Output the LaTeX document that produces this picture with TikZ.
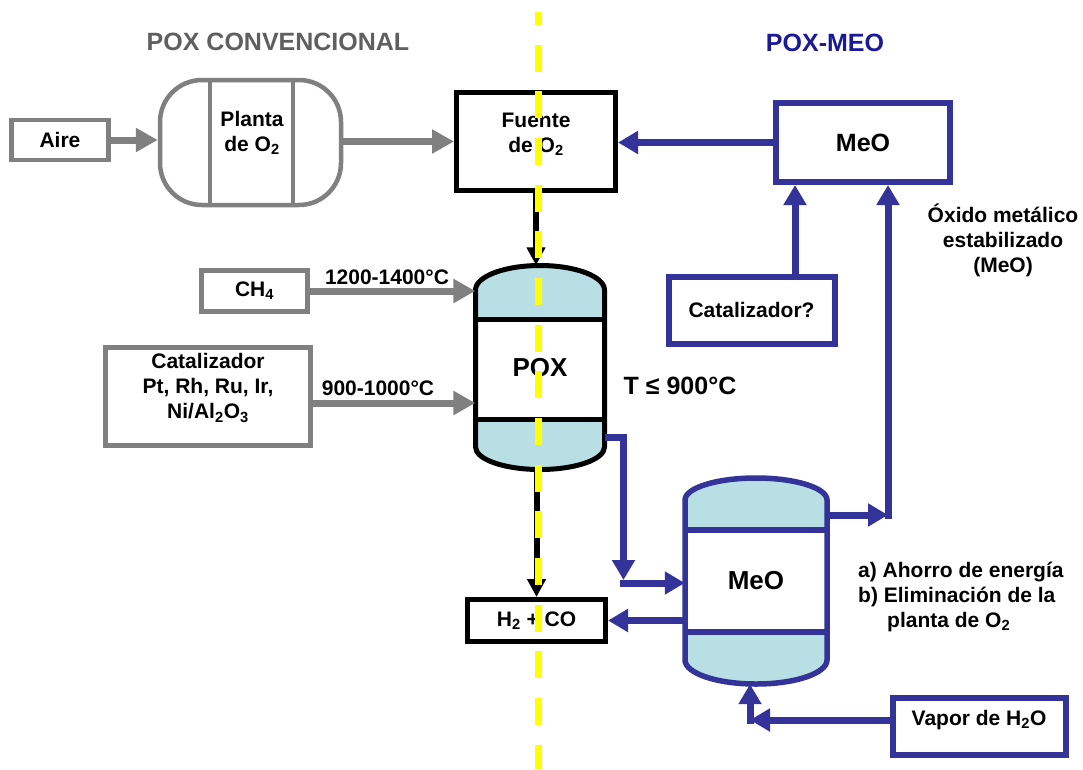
\documentclass[tikz,border=0pt]{standalone}
\usepackage{fontspec}
\setmainfont{Liberation Sans}
\usepackage{xcolor}
\definecolor{cGray}{HTML}{808080}
\definecolor{cGrayText}{HTML}{5F5F5F}
\definecolor{cBlue}{HTML}{333399}
\definecolor{cNavy}{HTML}{1A1A99}
\definecolor{cFill}{HTML}{B8DFE3}
\definecolor{cDivide}{HTML}{FFFF00}
\usepackage{tikz}
\usetikzlibrary{positioning,arrows.meta,calc}
\tikzset{
  txt/.style={font=\fontsize{21pt}{25pt}\selectfont\bfseries,align=center,inner sep=0pt},
  txt-big/.style={font=\fontsize{26pt}{30pt}\selectfont\bfseries,align=center,inner sep=0pt},
  head-title/.style={font=\fontsize{25pt}{30pt}\selectfont\bfseries,inner sep=0pt},
  box-gray/.style={txt,draw=cGray,line width=4.5pt,fill=white},
  box-black/.style={txt,draw=black,line width=5pt,fill=white},
  box-blue/.style={txt,draw=cBlue,line width=6pt,fill=white},
  vessel-black/.style={draw=black,line width=5pt},
  vessel-blue/.style={draw=cBlue,line width=5.5pt},
  arrow-gray/.style={-{Triangle[length=22pt,width=23pt]},line width=7pt,draw=cGray},
  arrow-blue/.style={-{Triangle[length=20pt,width=22pt]},line width=7pt,draw=cBlue},
  arrow-black/.style={-{Triangle[length=18pt,width=18pt]},line width=6pt,draw=black},
  divide-line/.style={draw=cDivide,line width=7pt,dash pattern=on 27pt off 19.67pt,dash phase=14pt},
}

\begin{document}
\begin{tikzpicture}[x=1pt,y=-1pt]
  \useasboundingbox (0,0) rectangle (1083,769);

  \node[head-title,text=cGrayText] (t-conv) at (278,42) {POX CONVENCIONAL};
  \node[head-title,text=cNavy]     (t-meo)  at (825,43) {POX-MEO};

  % reactor POX
  \fill[cFill] (475.5,319) -- (475.5,290)
    arc[start angle=180,end angle=0,x radius=64.5pt,y radius=24.5pt] -- (604.5,319) -- cycle;
  \fill[cFill] (475.5,419) -- (475.5,447)
    arc[start angle=180,end angle=360,x radius=64.5pt,y radius=22.5pt] -- (604.5,419) -- cycle;
  \draw[vessel-black] (475.5,290)
    arc[start angle=180,end angle=0,x radius=64.5pt,y radius=24.5pt] -- (604.5,447)
    arc[start angle=0,end angle=-180,x radius=64.5pt,y radius=22.5pt] -- cycle;
  \draw[vessel-black] (475.5,319) -- (604.5,319);
  \draw[vessel-black] (475.5,419) -- (604.5,419);
  \node[txt-big,minimum width=129pt,minimum height=204pt] (pox) at (540,367.5) {POX};

  % reactor MeO
  \fill[cFill] (685,530) -- (685,500)
    arc[start angle=180,end angle=0,x radius=71pt,y radius=22pt] -- (827,530) -- cycle;
  \fill[cFill] (685,632) -- (685,660)
    arc[start angle=180,end angle=360,x radius=71pt,y radius=24pt] -- (827,632) -- cycle;
  \draw[vessel-blue] (685,500)
    arc[start angle=180,end angle=0,x radius=71pt,y radius=22pt] -- (827,660)
    arc[start angle=0,end angle=-180,x radius=71pt,y radius=24pt] -- cycle;
  \draw[vessel-blue] (685,530) -- (827,530);
  \draw[vessel-blue] (685,632) -- (827,632);
  \node[txt-big,minimum width=142pt,minimum height=206pt] (meo-v) at (756,581) {MeO};

  % cajas
  \node[box-gray,minimum width=97pt,minimum height=40pt] (aire) at (60,140) {Aire};
  \node[box-gray,rounded corners=42pt,minimum width=181pt,minimum height=125pt] (planta) at (250.5,142.5) {};
  \draw[cGray,line width=4.5pt] ([xshift=-40.5pt]planta.north) -- ([xshift=-40.5pt]planta.south);
  \draw[cGray,line width=4.5pt] ([xshift=42.5pt]planta.north) -- ([xshift=42.5pt]planta.south);
  \node[txt] (planta-txt) at (252,132.5) {Planta\\de O\textsubscript{2}};
  \node[box-black,minimum width=159pt,minimum height=98pt] (fuente) at (536,141.5) {};
  \node[txt] (fuente-txt) at (536,134.5) {Fuente\\de O\textsubscript{2}};
  \node[box-blue,minimum width=174pt,minimum height=79pt,
        font=\fontsize{25pt}{30pt}\selectfont\bfseries] (meo) at (863,142.5) {MeO};
  \node[box-blue,minimum width=166pt,minimum height=67pt] (cat-q) at (751.5,310) {Catalizador?};
  \node[box-gray,minimum width=106pt,minimum height=41pt] (ch4) at (254.5,291) {CH\textsubscript{4}};
  \node[box-gray,minimum width=205pt,minimum height=98pt] (cat) at (208,396.5) {};
  \node[txt] (cat-txt) at (208,388) {Catalizador\\Pt, Rh, Ru, Ir,\\Ni/Al\textsubscript{2}O\textsubscript{3}};
  \node[box-black,minimum width=138pt,minimum height=42pt] (h2co) at (536.5,620.5) {H\textsubscript{2} + CO};
  \node[box-blue,minimum width=173pt,minimum height=57pt] (vapor) at (979,726) {};
  \node[txt] (vapor-txt) at (979,720) {Vapor de H\textsubscript{2}O};

  % textos
  \node[txt] (t-ch4) at (387,277) {1200-1400°C};
  \node[txt] (t-cat) at (378,388) {900-1000°C};
  \node[head-title] (t-temp) at (680,386) {T ≤ 900°C};
  \node[txt] (t-oxido) at (1003,240) {Óxido metálico\\estabilizado\\(MeO)};
  \node[txt,align=left,anchor=west] (t-gain) at (858,597)
    {a) Ahorro de energía\\b) Eliminación de la\\\hspace*{29pt}planta de O\textsubscript{2}};

  % flujos convencionales
  \draw[arrow-gray] (aire.east) -- (aire.east -| planta.west);
  \draw[arrow-gray] (planta.east |- fuente) -- (fuente.west);
  \draw[arrow-gray] (ch4.east) -- (ch4.east -| pox.west);
  \draw[arrow-gray] ([yshift=-6.5pt]cat.east) -- ([yshift=-6.5pt]cat.east -| pox.west);
  \draw[arrow-black] (fuente.south) -- (fuente.south |- pox.north);
  \draw[arrow-black] (h2co.north |- pox.south) -- (h2co.north);

  % flujos MeO
  \coordinate (rise-a) at (795,0);
  \coordinate (rise-b) at (888,515);
  \coordinate (drop)   at (623.5,437);
  \coordinate (feed)   at (623.5,583);
  \coordinate (steam)  at (750,720);
  \draw[arrow-blue] (meo.west) -- (meo.west -| fuente.east);
  \draw[arrow-blue] (cat-q.north -| rise-a) -- (meo.south -| rise-a);
  \draw[arrow-blue] (meo-v.east |- rise-b) -- (rise-b);
  \draw[arrow-blue] ([yshift=-3.5pt]rise-b) -- (rise-b |- meo.south);
  \draw[arrow-blue] (pox.east |- drop) -- (drop) -- ([yshift=3pt]feed);
  \draw[arrow-blue] ([xshift=-3.5pt]feed) -- (feed -| meo-v.west);
  \draw[arrow-blue] (meo-v.west |- h2co) -- (h2co.east);
  \draw[arrow-blue] (vapor.west |- steam) -- (steam);
  \draw[arrow-blue] ([yshift=-3.5pt]steam) -- (steam |- meo-v.south);

  % linea divisoria
  \coordinate (div-top) at (538,12);
  \coordinate (div-bot) at (538,769);
  \draw[divide-line] (div-top) -- (div-bot);
\end{tikzpicture}
\end{document}
